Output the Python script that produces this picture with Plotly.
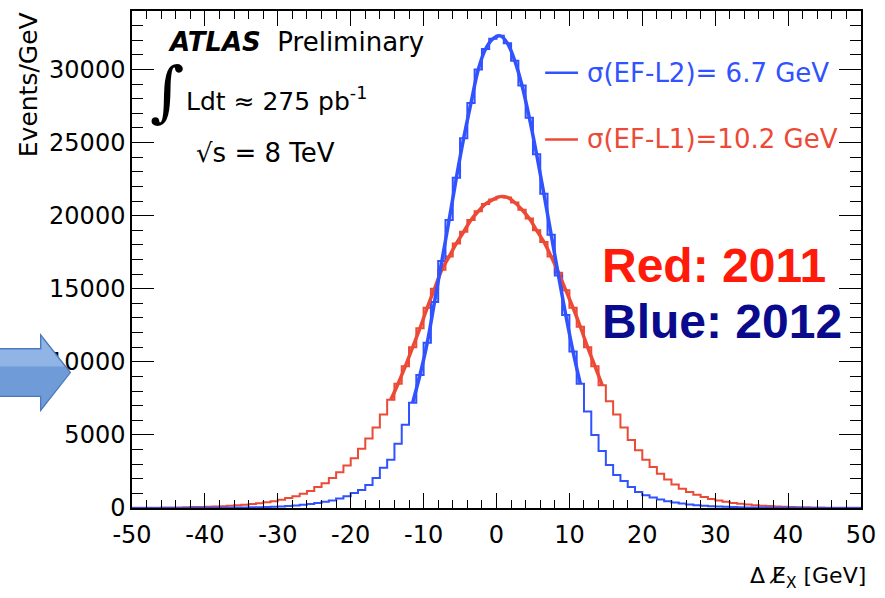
import plotly.graph_objects as go

# 1 GeV bins from -50 to 50 GeV
bin_edges = list(range(-50, 51))

# EF - L2 residual (2012), events per GeV, bins [-50,-49) ... [49,50)
blue_counts = [
    2, 3, 3, 4, 4, 5, 6, 7, 9, 11,
    13, 16, 20, 25, 30, 38, 47, 58, 72, 90,
    110, 135, 170, 215, 270, 340, 420, 520, 650, 800,
    1020, 1230, 1570, 2050, 2750, 3300, 4400, 5700, 7200, 9100,
    11300, 14100, 16900, 19700, 22600, 25300, 27700, 30000, 31400, 32100,
    32300, 31800, 30600, 28900, 26700, 24200, 21500, 18700, 15900, 13200,
    10700, 8500, 6600, 5000, 3900, 2950, 2250, 1850, 1430, 1100,
    880, 720, 580, 460, 370, 300, 240, 190, 150, 120,
    100, 80, 65, 52, 42, 34, 28, 22, 18, 15,
    12, 10, 8, 7, 6, 5, 4, 4, 3, 3,
]

# EF - L1 residual (2011), events per GeV
red_counts = [
    14, 17, 20, 25, 30, 35, 42, 50, 60, 70,
    85, 100, 120, 150, 180, 220, 270, 330, 400, 470,
    560, 680, 810, 980, 1170, 1430, 1700, 2050, 2450, 2900,
    3400, 4050, 4750, 5500, 6400, 7400, 8500, 9700, 11000, 12300,
    13700, 15000, 16300, 17200, 18100, 18900, 19700, 20300, 20800, 21100,
    21300, 21250, 20900, 20400, 19800, 19000, 18200, 17200, 16100, 14900,
    13700, 12400, 11000, 9700, 8400, 7300, 6400, 5500, 4650, 3950,
    3300, 2800, 2350, 1950, 1600, 1320, 1090, 900, 750, 620,
    510, 420, 350, 290, 240, 195, 160, 130, 105, 85,
    70, 57, 47, 38, 31, 25, 20, 16, 13, 10,
]

# Gaussian fit ranges (GeV) drawn over the core of each distribution
blue_fit_range = (-12, 12)
red_fit_range = (-15, 15)

x_ticks = list(range(-50, 51, 10))
y_ticks = list(range(0, 30001, 5000))

blue_label = "σ(EF-L2)= 6.7 GeV"
red_label = "σ(EF-L1)=10.2 GeV"

BLUE = "#3052ff"
RED = "#ec4a36"

W, H = 885, 598
L, R, T, B = 132, 866, 9, 508   # plot frame in pixels


def px(x):
    return (x - L) / (R - L)


def py(y):
    return (B - y) / (B - T)


centers = [(a + b) / 2 for a, b in zip(bin_edges[:-1], bin_edges[1:])]


def step_trace(counts, color, width):
    return go.Scatter(
        x=bin_edges, y=counts + [counts[-1]], mode="lines",
        line=dict(color=color, width=width, shape="hv"),
        hoverinfo="skip", showlegend=False,
    )


def fit_trace(counts, color, rng):
    xs = [c for c in centers if rng[0] <= c <= rng[1]]
    ys = [v for c, v in zip(centers, counts) if rng[0] <= c <= rng[1]]
    return go.Scatter(
        x=xs, y=ys, mode="lines",
        line=dict(color=color, width=3.5, shape="spline", smoothing=1.0),
        hoverinfo="skip", showlegend=False,
    )


fig = go.Figure()
fig.add_trace(step_trace(red_counts, RED, 2))
fig.add_trace(step_trace(blue_counts, BLUE, 2))
fig.add_trace(fit_trace(red_counts, RED, red_fit_range))
fig.add_trace(fit_trace(blue_counts, BLUE, blue_fit_range))

SANS = "DejaVu Sans, Verdana, sans-serif"
tick_font = dict(family=SANS, size=24, color="black")

fig.update_xaxes(
    range=[-50, 50], tickvals=x_ticks, ticktext=[str(v) for v in x_ticks],
    ticks="inside", ticklen=15, tickwidth=1.3, tickcolor="black",
    minor=dict(ticks="inside", ticklen=8, tickwidth=1.2, tickcolor="black", dtick=2),
    showline=True, linecolor="black", linewidth=1.5, mirror="ticks",
    showgrid=False, zeroline=False, tickfont=tick_font, ticklabelstandoff=4,
)
fig.update_yaxes(
    range=[0, 34000], tickvals=y_ticks, ticktext=[str(v) for v in y_ticks],
    ticks="inside", ticklen=22, tickwidth=1.3, tickcolor="black",
    minor=dict(ticks="inside", ticklen=11, tickwidth=1.2, tickcolor="black", dtick=1000),
    showline=True, linecolor="black", linewidth=1.5, mirror="ticks",
    showgrid=False, zeroline=False, tickfont=tick_font,
)

ann = []


def add_text(text, x, y, size, color="black", xanchor="left", yanchor="middle", angle=0, family=SANS):
    ann.append(dict(
        text=text, x=px(x), y=py(y), xref="paper", yref="paper",
        xanchor=xanchor, yanchor=yanchor, showarrow=False, textangle=angle,
        font=dict(family=family, size=size, color=color),
    ))


add_text("<b><i>ATLAS</i></b>  Preliminary", 166, 40, 26)
add_text("∫", 148, 90, 66, family="DejaVu Serif, serif")
add_text("Ldt ≈ 275 pb<sup>-1</sup>", 184, 98, 25)
add_text("√s = 8 TeV", 194, 152, 26)
add_text(blue_label, 588, 71, 26, color=BLUE)
add_text(red_label, 588, 138, 26, color=RED)
add_text("<b>Red: 2011</b>", 603, 265, 48, color="#ff1a0a", family="Liberation Sans, Arial, sans-serif")
add_text("<b>Blue: 2012</b>", 603, 321, 48, color="#0a0a8c", family="Liberation Sans, Arial, sans-serif")
add_text("Events/GeV", 28, 8, 25, xanchor="center", yanchor="top", angle=-90)
add_text("Δ E\u0338<sub>X</sub> [GeV]", 873, 578, 22, xanchor="right")

shapes = [
    dict(type="line", xref="paper", yref="paper", x0=px(548), x1=px(581), y0=py(71), y1=py(71),
         line=dict(color=BLUE, width=2.5)),
    dict(type="line", xref="paper", yref="paper", x0=px(548), x1=px(581), y0=py(138), y1=py(138),
         line=dict(color=RED, width=2.5)),
]

# block arrow at the left margin, lighter band on top for a soft gradient look
arrow_pts = [(-2, 348), (40, 348), (40, 334), (70, 372), (40, 410), (40, 396), (-2, 396)]
path = "M " + " L ".join(f"{px(x):.5f},{py(y):.5f}" for x, y in arrow_pts) + " Z"
shapes.append(dict(type="path", xref="paper", yref="paper", path=path, layer="above",
                   fillcolor="#6f9bd8", line=dict(color="#4a78b8", width=1.2)))
hi_pts = [(-1, 349), (41, 349), (41, 337), (64, 366), (-1, 366)]
hi_path = "M " + " L ".join(f"{px(x):.5f},{py(y):.5f}" for x, y in hi_pts) + " Z"
shapes.append(dict(type="path", xref="paper", yref="paper", path=hi_path, layer="above",
                   fillcolor="rgba(170,200,240,0.55)", line=dict(width=0)))

fig.update_layout(
    width=W, height=H,
    margin=dict(l=L, r=W - R, t=T, b=H - B),
    paper_bgcolor="white", plot_bgcolor="white",
    annotations=ann, shapes=shapes, showlegend=False,
)

fig.write_html("out.html")
